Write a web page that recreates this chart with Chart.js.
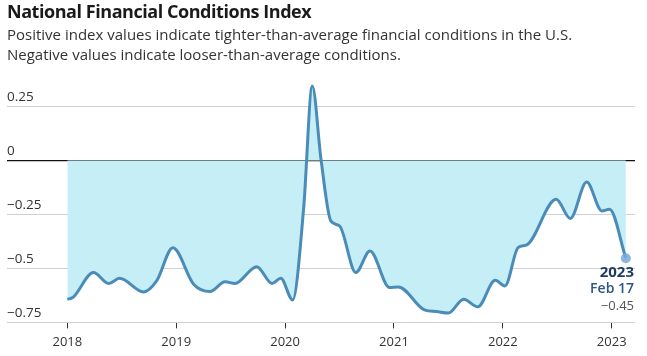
<!DOCTYPE html>
<html>
<head>
<meta charset="utf-8">
<script src="https://cdn.jsdelivr.net/npm/chart.js@4"></script>
<style>
  html, body { margin: 0; padding: 0; background: #fff; }
  body { width: 647px; height: 356px; position: relative; overflow: hidden; font-family: "Open Sans", Lato, sans-serif; }
  #title { position: absolute; left: 7px; top: -1px; font-family: "Open Sans", "Noto Sans", sans-serif; font-weight: 700; font-size: 18px; color: #1a1a1a; letter-spacing: -0.45px; }
  #sub { position: absolute; left: 7px; top: 24px; font-family: "Open Sans", "Noto Sans", sans-serif; font-size: 15px; line-height: 20px; color: #333; letter-spacing: 0px; }
  #wrap { position: absolute; left: 0; top: 0; width: 647px; height: 356px; }
</style>
</head>
<body>
<div id="wrap"><canvas id="c" width="647" height="356"></canvas></div>
<div id="title">National Financial Conditions Index</div>
<div id="sub">Positive index values indicate tighter-than-average financial conditions in the U.S.<br>Negative values indicate looser-than-average conditions.</div>
<script>
// Dates as decimal years, values of the index
const dates = [
  2018.00, 2018.05, 2018.24, 2018.38, 2018.48, 2018.70, 2018.82, 2018.97,
  2019.16, 2019.31, 2019.45, 2019.54, 2019.74, 2019.88, 2019.96, 2020.07,
  2020.17, 2020.25, 2020.33, 2020.42, 2020.50, 2020.65, 2020.78, 2020.96,
  2021.04, 2021.28, 2021.39, 2021.50, 2021.64, 2021.77, 2021.93, 2022.02,
  2022.14, 2022.22, 2022.49, 2022.62, 2022.77, 2022.91, 2022.98, 2023.13
];
const values = [
  -0.643, -0.635, -0.519, -0.570, -0.546, -0.609, -0.558, -0.404,
  -0.573, -0.607, -0.562, -0.570, -0.492, -0.570, -0.546, -0.646,
  -0.226, 0.345, 0.005, -0.280, -0.303, -0.519, -0.419, -0.589,
  -0.586, -0.692, -0.700, -0.707, -0.643, -0.678, -0.555, -0.581,
  -0.404, -0.391, -0.180, -0.269, -0.100, -0.234, -0.226, -0.453
];
const xTickYears = [2018, 2019, 2020, 2021, 2022, 2023];
const yTickValues = [0.25, 0, -0.25, -0.5, -0.75];
const lastLabel = ["2023", "Feb 17", "\u22120.45"];

const points = dates.map((d, i) => ({ x: d, y: values[i] }));

const annot = {
  id: 'annot',
  afterDatasetsDraw(chart) {
    const ctx = chart.ctx;
    const area = chart.chartArea;
    const meta = chart.getDatasetMeta(0);
    const p = meta.data[meta.data.length - 1];
    ctx.save();
    ctx.textAlign = 'right';
    ctx.textBaseline = 'middle';
    ctx.fillStyle = '#1e3a5f';
    ctx.font = '700 15px "Open Sans", sans-serif';
    ctx.fillText(lastLabel[0], area.right - 1, p.y + 14);
    ctx.font = '600 14px "Open Sans", sans-serif';
    ctx.fillStyle = '#2c5784';
    ctx.fillText(lastLabel[1], area.right - 1, p.y + 31);
    ctx.fillStyle = '#555';
    ctx.font = '400 13px "Open Sans", sans-serif';
    ctx.fillText(lastLabel[2], area.right - 1, p.y + 48);
    ctx.restore();
  }
};

new Chart(document.getElementById('c'), {
  type: 'line',
  data: {
    datasets: [{
      data: points,
      borderColor: '#4a8cb8',
      borderWidth: 3,
      backgroundColor: '#c6eef6',
      fill: { value: 0 },
      cubicInterpolationMode: 'monotone',
      pointRadius: ctx => ctx.dataIndex === values.length - 1 ? 5 : 0,
      pointBackgroundColor: 'rgba(120,170,220,0.85)',
      pointBorderWidth: 0,
      pointHoverRadius: 0
    }]
  },
  plugins: [annot],
  options: {
    responsive: false,
    animation: false,
    devicePixelRatio: 1,
    layout: { padding: { top: 74, left: 7, right: 12, bottom: 0 } },
    plugins: { legend: { display: false }, tooltip: { enabled: false } },
    scales: {
      x: {
        type: 'linear',
        min: 2017.446,
        max: 2023.214,
        afterBuildTicks: s => { s.ticks = xTickYears.map(v => ({ value: v })); },
        border: { display: false },
        grid: { drawOnChartArea: false, drawTicks: true, tickLength: 6, tickColor: '#333', lineWidth: 1 },
        ticks: {
          callback: v => String(v),
          color: '#333',
          font: { family: '"Open Sans", sans-serif', size: 13 },
          padding: 6,
          maxRotation: 0
        }
      },
      y: {
        min: -0.75,
        max: 0.4,
        afterBuildTicks: s => { s.ticks = yTickValues.map(v => ({ value: v })); },
        border: { display: false },
        grid: {
          drawTicks: false,
          color: c => (c.tick && c.tick.value === 0) ? '#111' : '#cdd2d5',
          lineWidth: c => (c.tick && c.tick.value === 0) ? 1.2 : 1
        },
        ticks: {
          mirror: true,
          padding: 0,
          labelOffset: -9,
          color: '#333',
          font: { family: '"Open Sans", sans-serif', size: 13.5 },
          callback: v => String(v).replace('-', '\u2212')
        }
      }
    }
  }
});
</script>
</body>
</html>
